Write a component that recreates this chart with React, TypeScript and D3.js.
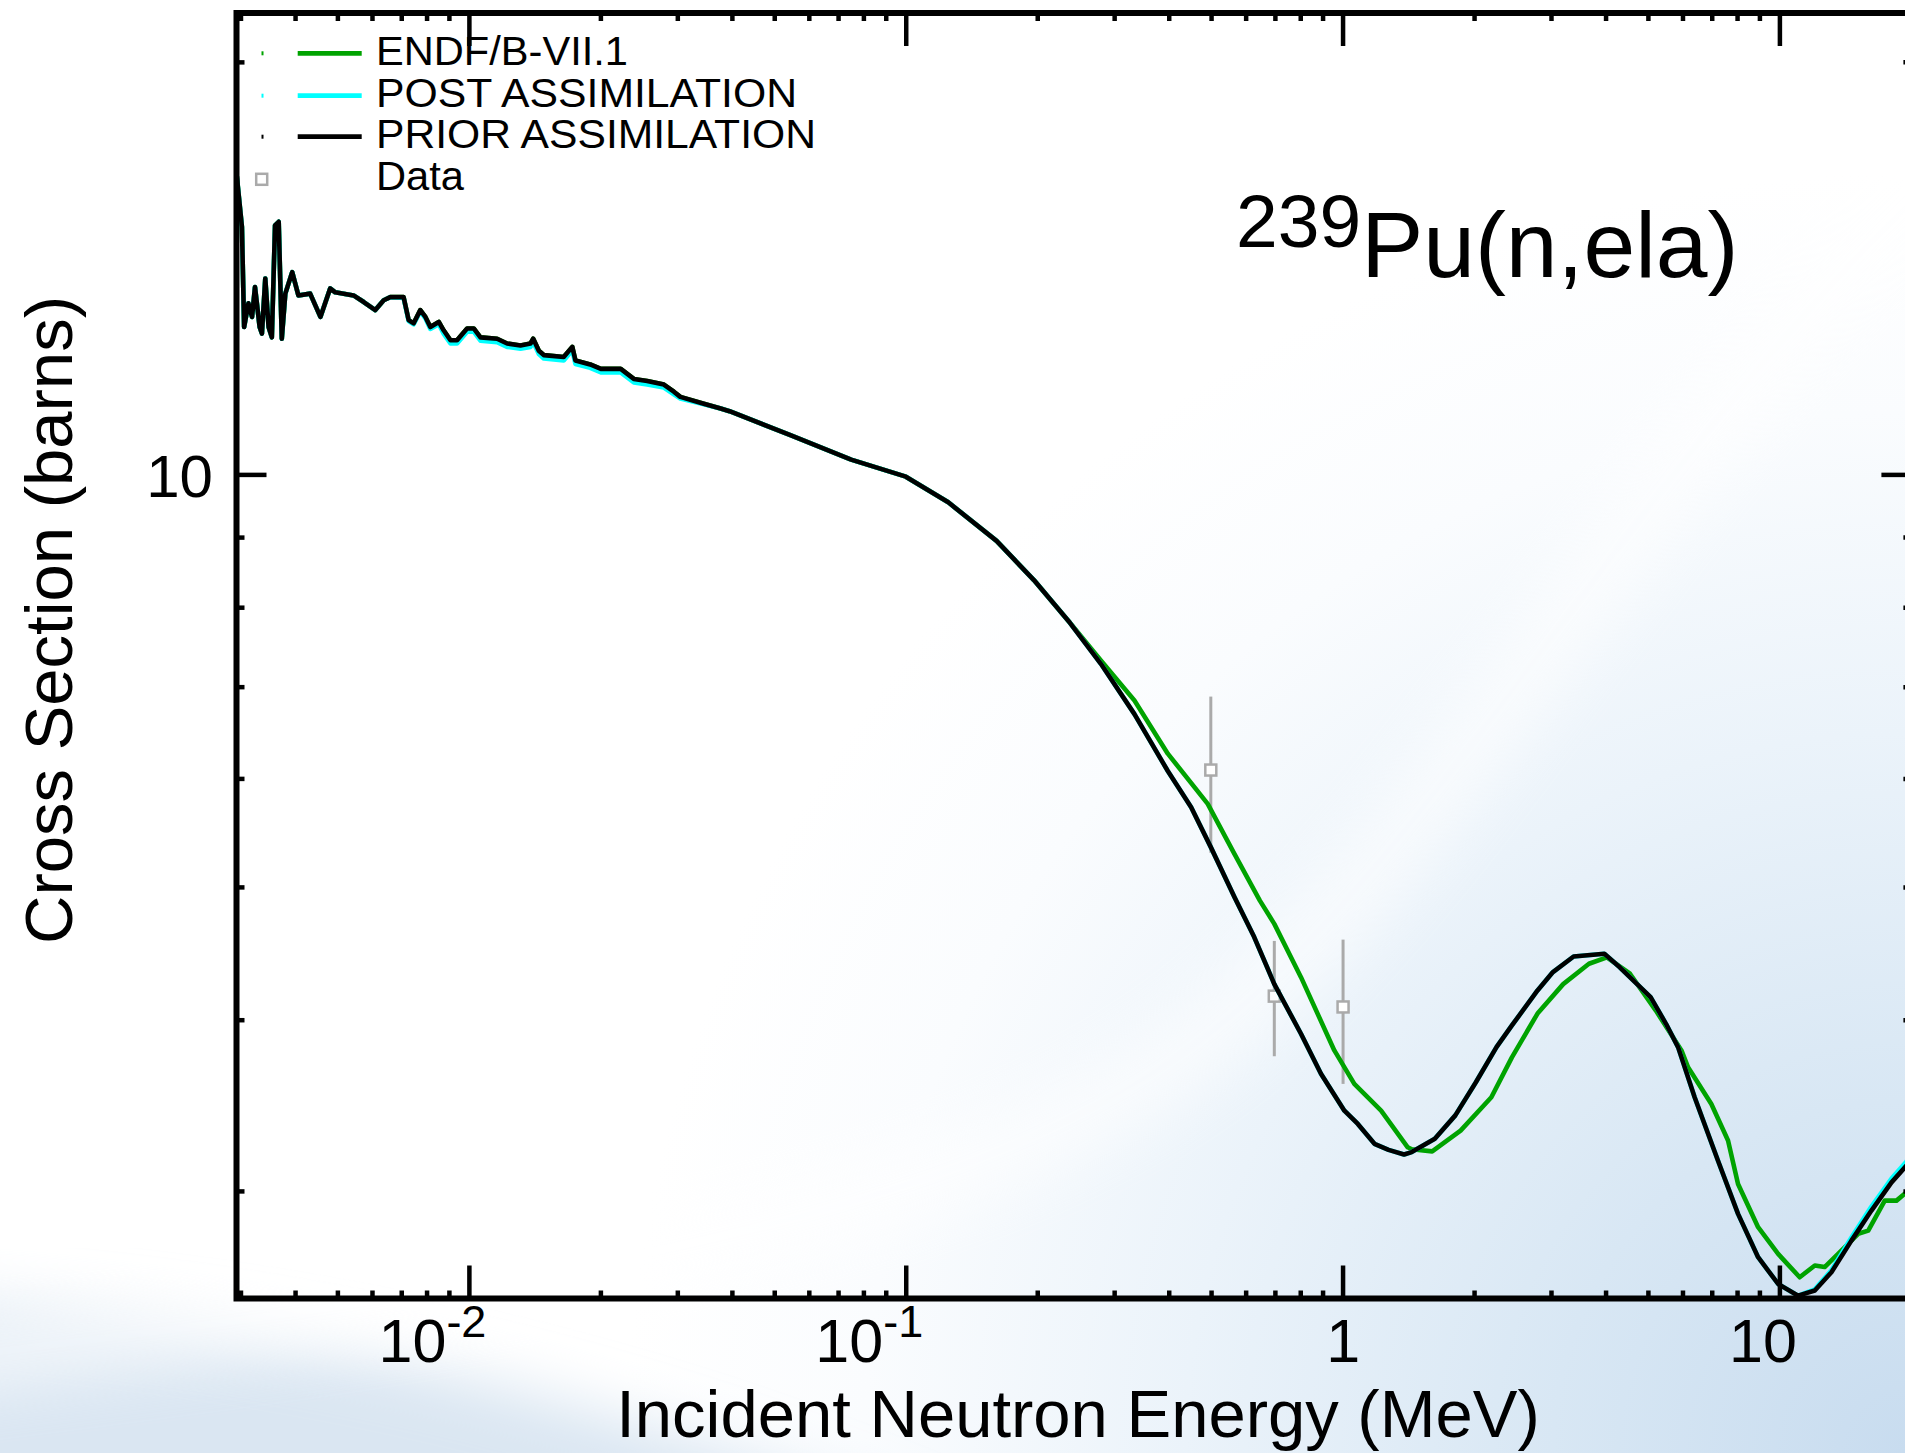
import React from "react";
import * as d3 from "d3";

// ---------- DATA ----------
// Resolved-resonance region (shared by all evaluations)
const resE = [2.93e-3, 3.015e-3, 3.05e-3, 3.12e-3, 3.18e-3, 3.23e-3, 3.31e-3, 3.35e-3, 3.41e-3, 3.47e-3, 3.53e-3, 3.59e-3, 3.66e-3, 3.72e-3, 3.79e-3, 3.93e-3, 4.06e-3, 4.32e-3, 4.56e-3, 4.80e-3, 4.93e-3, 5.43e-3, 5.73e-3];
const resXS = [16.6, 15.17, 12.82, 13.34, 13.04, 13.71, 12.82, 12.68, 13.91, 12.82, 12.6, 15.21, 15.3, 12.57, 13.56, 14.06, 13.52, 13.56, 13.04, 13.68, 13.59, 13.52, 13.37];

// Unresolved region: prior and post assimilation
const urrE = [6.09e-3, 6.365e-3, 6.59e-3, 7.07e-3, 7.26e-3, 7.455e-3, 7.72e-3, 7.93e-3, 8.14e-3, 8.51e-3, 8.73e-3, 9.05e-3, 9.37e-3, 9.88e-3, 1.023e-2, 1.06e-2, 1.157e-2, 1.22e-2, 1.309e-2, 1.38e-2, 1.4e-2, 1.442e-2, 1.48e-2, 1.644e-2, 1.72e-2, 1.749e-2, 1.89e-2, 2.0e-2, 2.22e-2, 2.379e-2, 2.553e-2, 2.787e-2, 2.938e-2, 3.04e-2, 3.44e-2, 3.76e-2];
const urrPriorXS = [13.19, 13.41, 13.48, 13.48, 12.97, 12.9, 13.19, 13.04, 12.82, 12.93, 12.75, 12.54, 12.54, 12.79, 12.79, 12.6, 12.57, 12.47, 12.43, 12.47, 12.57, 12.32, 12.23, 12.19, 12.4, 12.12, 12.04, 11.95, 11.95, 11.75, 11.71, 11.64, 11.5, 11.4, 11.27, 11.18];
const urrPostXS = [13.19, 13.41, 13.48, 13.46, 12.95, 12.88, 13.16, 13.01, 12.78, 12.88, 12.68, 12.47, 12.47, 12.72, 12.72, 12.53, 12.5, 12.4, 12.36, 12.4, 12.5, 12.25, 12.16, 12.12, 12.33, 12.05, 11.97, 11.88, 11.88, 11.68, 11.64, 11.58, 11.45, 11.37, 11.26, 11.18];

// Smooth region (shared)
const smoothE = [3.94e-2, 5.43e-2, 7.48e-2, 0.0998, 0.1248, 0.161, 0.196, 0.237];
const smoothXS = [11.13, 10.69, 10.26, 9.97, 9.55, 8.95, 8.38, 7.8];

// Fast region: prior / post
const fastE = [0.279, 0.333, 0.397, 0.449, 0.498, 0.564, 0.626, 0.696, 0.801, 0.89, 1.007, 1.081, 1.18, 1.271, 1.379, 1.436, 1.622, 1.807, 2.014, 2.245, 2.435, 2.787, 3.023, 3.371, 3.964, 4.299, 5.058, 5.486, 5.846, 6.38, 7.217, 8.02, 8.915, 9.906, 11.01, 12.02, 13.12, 14.58, 16.2, 18.01, 19.49, 20];
const fastPriorXS = [7.28, 6.69, 6.08, 5.72, 5.35, 4.92, 4.6, 4.25, 3.91, 3.656, 3.436, 3.36, 3.25, 3.217, 3.192, 3.205, 3.278, 3.409, 3.604, 3.823, 3.965, 4.205, 4.337, 4.452, 4.472, 4.372, 4.158, 3.976, 3.823, 3.514, 3.159, 2.889, 2.686, 2.568, 2.518, 2.54, 2.619, 2.762, 2.905, 3.046, 3.133, 3.165];
const fastPostXS = [7.28, 6.69, 6.08, 5.72, 5.35, 4.92, 4.6, 4.25, 3.91, 3.656, 3.436, 3.36, 3.25, 3.217, 3.192, 3.205, 3.278, 3.409, 3.604, 3.823, 3.965, 4.205, 4.337, 4.452, 4.472, 4.372, 4.158, 3.976, 3.823, 3.514, 3.159, 2.889, 2.686, 2.568, 2.518, 2.545, 2.628, 2.777, 2.925, 3.066, 3.155, 3.19];

// Fast region: ENDF/B-VII.1
const endfFastE = [0.279, 0.333, 0.397, 0.49, 0.564, 0.645, 0.696, 0.801, 0.955, 1.061, 1.222, 1.406, 1.436, 1.6, 1.858, 2.185, 2.435, 2.787, 3.191, 3.655, 4.017, 4.538, 5.196, 5.952, 6.163, 6.967, 7.608, 8.02, 8.915, 9.906, 11.1, 12.02, 12.66, 13.59, 15.11, 15.93, 17.38, 18.49, 19.49, 20];
const endfFastXS = [7.32, 6.845, 6.26, 5.754, 5.29, 4.89, 4.703, 4.3, 3.802, 3.594, 3.436, 3.231, 3.22, 3.209, 3.323, 3.514, 3.758, 4.045, 4.25, 4.398, 4.446, 4.325, 4.067, 3.802, 3.696, 3.475, 3.268, 3.038, 2.825, 2.701, 2.597, 2.649, 2.642, 2.701, 2.794, 2.809, 2.954, 2.954, 2.996, 3.01];

// Experimental data
const dataE = [0.498, 0.696, 1.0];
const dataXS = [6.09, 4.165, 4.09];
const dataLow = [5.3, 3.765, 3.594];
const dataHigh = [6.89, 4.57, 4.58];

// Axes
const xDomain = [2.93e-3, 20];
const yDomain = [2.506, 21.73];
const xMajor = [0.01, 0.1, 1, 10];
const xMajorBase = ["10", "10", "1", "10"];
const xMajorExp = ["-2", "-1", "", ""];
const yMajor = [10];
const yMajorLabels = ["10"];
const yMinor = [3, 4, 5, 6, 7, 8, 9, 20];

const legendLabels = ["ENDF/B-VII.1", "POST ASSIMILATION", "PRIOR ASSIMILATION", "Data"];
const seriesColors = ["#00a300", "#00ffff", "#000000"];

const titleMass = "239";
const titleReaction = "Pu(n,ela)";
const xTitle = "Incident Neutron Energy (MeV)";
const yTitle = "Cross Section (barns)";

// ---------- LAYOUT ----------
const W = 1905;
const H = 1453;
const P = { left: 236.5, right: 1911.4, top: 13, bottom: 1298.5 };
const FONT = "'Liberation Sans', Arial, Helvetica, sans-serif";
const legendTextLen = [252, 421, 440, 88];

const zip = (e: number[], s: number[]) => e.map((v, i) => [v, s[i]] as [number, number]);

export default function App() {
  const x = d3.scaleLog().domain(xDomain).range([P.left, P.right]);
  const y = d3.scaleLog().domain(yDomain).range([P.bottom, P.top]);

  const endf = [...zip(resE, resXS), ...zip(urrE, urrPriorXS), ...zip(smoothE, smoothXS), ...zip(endfFastE, endfFastXS)];
  const post = [...zip(resE, resXS), ...zip(urrE, urrPostXS), ...zip(smoothE, smoothXS), ...zip(fastE, fastPostXS)];
  const prior = [...zip(resE, resXS), ...zip(urrE, urrPriorXS), ...zip(smoothE, smoothXS), ...zip(fastE, fastPriorXS)];
  const series = [endf, post, prior];

  const line = d3
    .line<[number, number]>()
    .x((d) => x(d[0]))
    .y((d) => y(d[1]));

  const xMinor: number[] = [];
  for (let k = -3; k <= 1; k++) {
    for (let m = 2; m <= 9; m++) {
      const v = m * Math.pow(10, k);
      if (v > xDomain[0] && v < xDomain[1]) xMinor.push(v);
    }
  }

  const majLen = 33;
  const minLen = 8;
  const tickW = 4.5;

  const sq = 11;
  const legendY = [53.3, 95.7, 136.7];
  const legendBase = [65, 106.7, 148.3, 190];

  return (
    <svg width={W} height={H} style={{ position: "absolute", left: 0, top: 0 }} fontFamily={FONT}>
      <defs>
        <radialGradient id="bgBlue" cx={1905} cy={1453} r={1600} gradientUnits="userSpaceOnUse">
          <stop offset="0" stopColor="#c8dcef" />
          <stop offset="0.22" stopColor="#d8e7f4" />
          <stop offset="0.45" stopColor="#ebf3fa" />
          <stop offset="0.65" stopColor="#fafcfe" />
          <stop offset="0.8" stopColor="#ffffff" />
        </radialGradient>
        <filter id="blurBig" x="-20%" y="-20%" width="140%" height="140%">
          <feGaussianBlur stdDeviation="30" />
        </filter>
        <clipPath id="plotClip">
          <rect x={P.left} y={P.top} width={P.right - P.left} height={P.bottom - P.top} />
        </clipPath>
      </defs>

      {/* background */}
      <rect x={0} y={0} width={W} height={H} fill="#ffffff" />
      <rect x={0} y={0} width={W} height={H} fill="url(#bgBlue)" />
      <path d="M -100 1300 Q 500 1330 1000 1560 L -100 1560 Z" fill="#dae6f2" filter="url(#blurBig)" />
      <path
        d="M -150 1370 C 500 1290, 1000 1230, 1250 1000 S 1700 350, 2050 80"
        fill="none"
        stroke="#ffffff"
        strokeWidth={70}
        opacity={0.6}
        filter="url(#blurBig)"
      />

      {/* data */}
      <g>
        {dataE.map((e, i) => (
          <g key={i}>
            <line x1={x(e)} x2={x(e)} y1={y(dataHigh[i])} y2={y(dataLow[i])} stroke="#aaaaaa" strokeWidth={3} />
            <rect
              x={x(e) - sq / 2}
              y={y(dataXS[i]) - sq / 2}
              width={sq}
              height={sq}
              fill="#ffffff"
              stroke="#aaaaaa"
              strokeWidth={2.5}
            />
          </g>
        ))}
      </g>

      {/* curves */}
      <g clipPath="url(#plotClip)">
        {series.map((s, i) => (
          <path key={i} d={line(s) || ""} fill="none" stroke={seriesColors[i]} strokeWidth={4.6} strokeLinejoin="round" />
        ))}
      </g>

      {/* frame */}
      <rect
        x={P.left}
        y={P.top}
        width={P.right - P.left}
        height={P.bottom - P.top}
        fill="none"
        stroke="#000"
        strokeWidth={6}
      />

      {/* ticks */}
      <g stroke="#000" strokeWidth={tickW}>
        {xMajor.map((t, i) => (
          <g key={"xm" + i}>
            <line x1={x(t)} x2={x(t)} y1={P.bottom} y2={P.bottom - majLen} />
            <line x1={x(t)} x2={x(t)} y1={P.top} y2={P.top + majLen} />
          </g>
        ))}
        {xMinor.map((t, i) => (
          <g key={"xn" + i}>
            <line x1={x(t)} x2={x(t)} y1={P.bottom} y2={P.bottom - minLen} />
            <line x1={x(t)} x2={x(t)} y1={P.top} y2={P.top + minLen} />
          </g>
        ))}
        {yMajor.map((t, i) => (
          <g key={"ym" + i}>
            <line x1={P.left} x2={P.left + majLen - 3} y1={y(t)} y2={y(t)} />
            <line x1={P.right} x2={P.right - majLen + 3} y1={y(t)} y2={y(t)} />
          </g>
        ))}
        {yMinor.map((t, i) => (
          <g key={"yn" + i}>
            <line x1={P.left} x2={P.left + minLen} y1={y(t)} y2={y(t)} />
            <line x1={P.right} x2={P.right - minLen} y1={y(t)} y2={y(t)} />
          </g>
        ))}
      </g>

      {/* tick labels */}
      <g fill="#000">
        {xMajor.map((t, i) => (
          <text key={"xl" + i} x={x(t) + 17} y={1362} textAnchor="end" fontSize={61}>
            {xMajorBase[i]}
            {xMajorExp[i] ? (
              <tspan fontSize={45} dy={-25}>
                {xMajorExp[i]}
              </tspan>
            ) : null}
          </text>
        ))}
        {yMajor.map((t, i) => (
          <text key={"yl" + i} x={213} y={y(t) + 22} textAnchor="end" fontSize={60}>
            {yMajorLabels[i]}
          </text>
        ))}
      </g>

      {/* axis titles */}
      <text x={1078} y={1437} textAnchor="middle" fontSize={67} fill="#000">
        {xTitle}
      </text>
      <text transform="translate(72,620) rotate(-90)" textAnchor="middle" fontSize={67} fill="#000">
        {yTitle}
      </text>

      {/* reaction title */}
      <text x={1236} y={277} fontSize={93} fill="#000">
        <tspan fontSize={75} dy={-30}>
          {titleMass}
        </tspan>
        <tspan dy={30}>{titleReaction}</tspan>
      </text>

      {/* legend */}
      <g>
        {seriesColors.map((c, i) => (
          <g key={"lg" + i}>
            <rect x={261.5} y={legendY[i] - 2} width={2} height={4} fill={c} />
            <line x1={297.7} x2={361.7} y1={legendY[i]} y2={legendY[i]} stroke={c} strokeWidth={4.7} />
          </g>
        ))}
        <rect x={261.7 - sq / 2} y={179.3 - sq / 2} width={sq} height={sq} fill="#ffffff" stroke="#aaaaaa" strokeWidth={2.5} />
        {legendLabels.map((l, i) => (
          <text
            key={"lt" + i}
            x={376}
            y={legendBase[i]}
            fontSize={41}
            fill="#000"
            textLength={legendTextLen[i]}
            lengthAdjust="spacingAndGlyphs"
          >
            {l}
          </text>
        ))}
      </g>
    </svg>
  );
}
